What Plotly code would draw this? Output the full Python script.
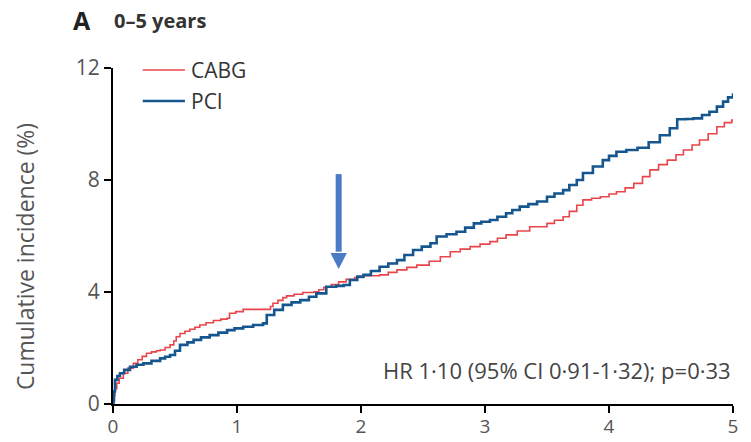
import plotly.graph_objects as go

# Cumulative incidence (%) over follow-up (years), step curves per arm
cabg_years = [0, 0.005, 0.015, 0.03, 0.05, 0.083, 0.12, 0.164, 0.20, 0.235, 0.27, 0.31, 0.35,
              0.38, 0.42, 0.46, 0.49, 0.51, 0.54, 0.58, 0.62, 0.66, 0.70, 0.75, 0.81, 0.87,
              0.92, 0.94, 0.99, 1.05, 1.24, 1.27, 1.29, 1.33, 1.37, 1.40, 1.46, 1.53, 1.62,
              1.66, 1.70, 1.76, 1.82, 1.88, 1.95, 2.02, 2.15, 2.22, 2.29, 2.37, 2.45, 2.55,
              2.64, 2.72, 2.80, 2.88, 2.96, 3.04, 3.10, 3.17, 3.26, 3.36, 3.50, 3.56, 3.63,
              3.68, 3.74, 3.79, 3.86, 3.93, 4.00, 4.06, 4.13, 4.20, 4.27, 4.33, 4.40, 4.47,
              4.54, 4.60, 4.67, 4.73, 4.80, 4.87, 4.93, 4.99, 5.00]
cabg_incidence = [0, 0.30, 0.55, 0.74, 0.92, 1.10, 1.28, 1.45, 1.58, 1.70, 1.81, 1.86, 1.90,
                  1.93, 2.02, 2.11, 2.25, 2.40, 2.52, 2.60, 2.67, 2.74, 2.82, 2.90, 2.98, 3.03,
                  3.06, 3.24, 3.30, 3.38, 3.38, 3.48, 3.60, 3.70, 3.80, 3.86, 3.92, 3.98, 4.01,
                  4.08, 4.17, 4.27, 4.36, 4.45, 4.52, 4.58, 4.61, 4.70, 4.79, 4.88, 4.96, 5.10,
                  5.26, 5.44, 5.53, 5.62, 5.71, 5.80, 5.92, 6.04, 6.18, 6.33, 6.45, 6.56, 6.69,
                  6.88, 7.10, 7.29, 7.35, 7.40, 7.50, 7.58, 7.72, 7.88, 8.12, 8.36, 8.55, 8.71,
                  8.90, 9.07, 9.25, 9.43, 9.65, 9.90, 10.05, 10.14, 10.16]

pci_years = [0, 0.004, 0.008, 0.016, 0.035, 0.056, 0.09, 0.137, 0.19, 0.245, 0.31, 0.38, 0.42,
             0.46, 0.50, 0.54, 0.60, 0.65, 0.71, 0.78, 0.85, 0.92, 0.98, 1.05, 1.13, 1.21,
             1.24, 1.30, 1.37, 1.44, 1.51, 1.58, 1.64, 1.72, 1.80, 1.86, 1.91, 1.97, 2.02,
             2.08, 2.15, 2.22, 2.29, 2.35, 2.42, 2.49, 2.56, 2.61, 2.69, 2.77, 2.84, 2.91,
             2.97, 3.04, 3.10, 3.17, 3.22, 3.28, 3.35, 3.42, 3.50, 3.56, 3.63, 3.68, 3.74,
             3.79, 3.87, 3.95, 4.00, 4.06, 4.14, 4.23, 4.32, 4.41, 4.49, 4.55, 4.62, 4.68,
             4.75, 4.81, 4.87, 4.92, 4.96, 5.00]
pci_incidence = [0, 0.14, 0.45, 0.86, 1.00, 1.10, 1.22, 1.33, 1.40, 1.45, 1.54, 1.63, 1.69,
                 1.75, 1.90, 2.11, 2.20, 2.29, 2.38, 2.46, 2.55, 2.64, 2.70, 2.76, 2.82, 2.88,
                 3.18, 3.36, 3.54, 3.63, 3.71, 3.83, 3.95, 4.19, 4.22, 4.25, 4.43, 4.55, 4.61,
                 4.75, 4.90, 5.02, 5.14, 5.32, 5.50, 5.62, 5.74, 5.98, 6.06, 6.15, 6.30, 6.45,
                 6.51, 6.57, 6.69, 6.81, 6.93, 7.05, 7.14, 7.23, 7.40, 7.52, 7.64, 7.82, 8.00,
                 8.25, 8.48, 8.71, 8.86, 9.01, 9.07, 9.15, 9.35, 9.60, 9.85, 10.17, 10.18, 10.20,
                 10.32, 10.44, 10.62, 10.80, 10.95, 11.10]

x_ticks = [0, 1, 2, 3, 4, 5]
y_ticks = [0, 4, 8, 12]

RED = "#e8454a"
BLUE = "#15568f"
ARROW = "#4a7cc6"
FONT = "Open Sans"

fig = go.Figure()
fig.add_trace(go.Scatter(x=cabg_years, y=cabg_incidence, mode="lines", name="CABG",
                         line=dict(color=RED, width=1.6, shape="hv"), showlegend=False))
fig.add_trace(go.Scatter(x=pci_years, y=pci_incidence, mode="lines", name="PCI",
                         line=dict(color=BLUE, width=2.6, shape="hv"), showlegend=False))

axis_common = dict(showline=True, linecolor="black", linewidth=2, ticks="outside",
                   ticklen=7, tickwidth=2, tickcolor="black", showgrid=False, zeroline=False,
                   automargin=False)
fig.update_xaxes(range=[0, 5], tickvals=x_ticks, ticklabelstandoff=-3,
                 tickfont=dict(family=FONT, size=19, color="#555555"), **axis_common)
fig.update_yaxes(range=[0, 12], tickvals=y_ticks,
                 tickfont=dict(family=FONT, size=21, color="#555555"), **axis_common)

# Downward arrow marking the curves crossing
ax_x, ax_top, ax_base, ax_tip, half_w = 1.82, 8.21, 5.39, 4.82, 0.066
fig.add_shape(type="line", x0=ax_x, x1=ax_x, y0=ax_top, y1=ax_base + 0.05,
              line=dict(color=ARROW, width=6), xref="x", yref="y")
fig.add_shape(type="path",
              path=f"M {ax_x - half_w},{ax_base} L {ax_x + half_w},{ax_base} L {ax_x},{ax_tip} Z",
              fillcolor=ARROW, line=dict(color=ARROW, width=0), xref="x", yref="y")

# Legend drawn as line samples + labels
legend_items = [("CABG", RED, 1.6, 0.994), ("PCI", BLUE, 2.6, 0.902)]
for label, color, width, ypos in legend_items:
    fig.add_shape(type="line", xref="paper", yref="paper", x0=0.048, x1=0.116, y0=ypos, y1=ypos,
                  line=dict(color=color, width=width))
    fig.add_annotation(xref="paper", yref="paper", x=0.122, y=ypos, text=label, showarrow=False,
                       xanchor="left", yanchor="middle",
                       font=dict(family=FONT, size=21, color="#333333"))

fig.add_annotation(xref="paper", yref="paper", x=-0.068, y=1.143, text="<b>A</b>", showarrow=False,
                   xanchor="left", yanchor="middle", font=dict(family=FONT, size=25, color="#222222"))
fig.add_annotation(xref="paper", yref="paper", x=-0.002, y=1.14, text="<b>0–5 years</b>",
                   showarrow=False, xanchor="left", yanchor="middle",
                   font=dict(family=FONT, size=20, color="#333333"))
fig.add_annotation(xref="paper", yref="paper", x=-0.142, y=0.44, text="Cumulative incidence (%)",
                   showarrow=False, textangle=-90, xanchor="center", yanchor="middle",
                   font=dict(family=FONT, size=23, color="#555555"))
fig.add_annotation(xref="paper", yref="paper", x=1.0, y=0.101,
                   text="HR 1·10 (95% CI 0·91-1·32); p=0·33", showarrow=False,
                   xanchor="right", yanchor="middle", font=dict(family=FONT, size=22, color="#444444"))

fig.update_layout(width=751, height=442, autosize=False,
                  margin=dict(l=113, r=18, t=68, b=38),
                  plot_bgcolor="white", paper_bgcolor="white")

fig.write_html("out.html")
